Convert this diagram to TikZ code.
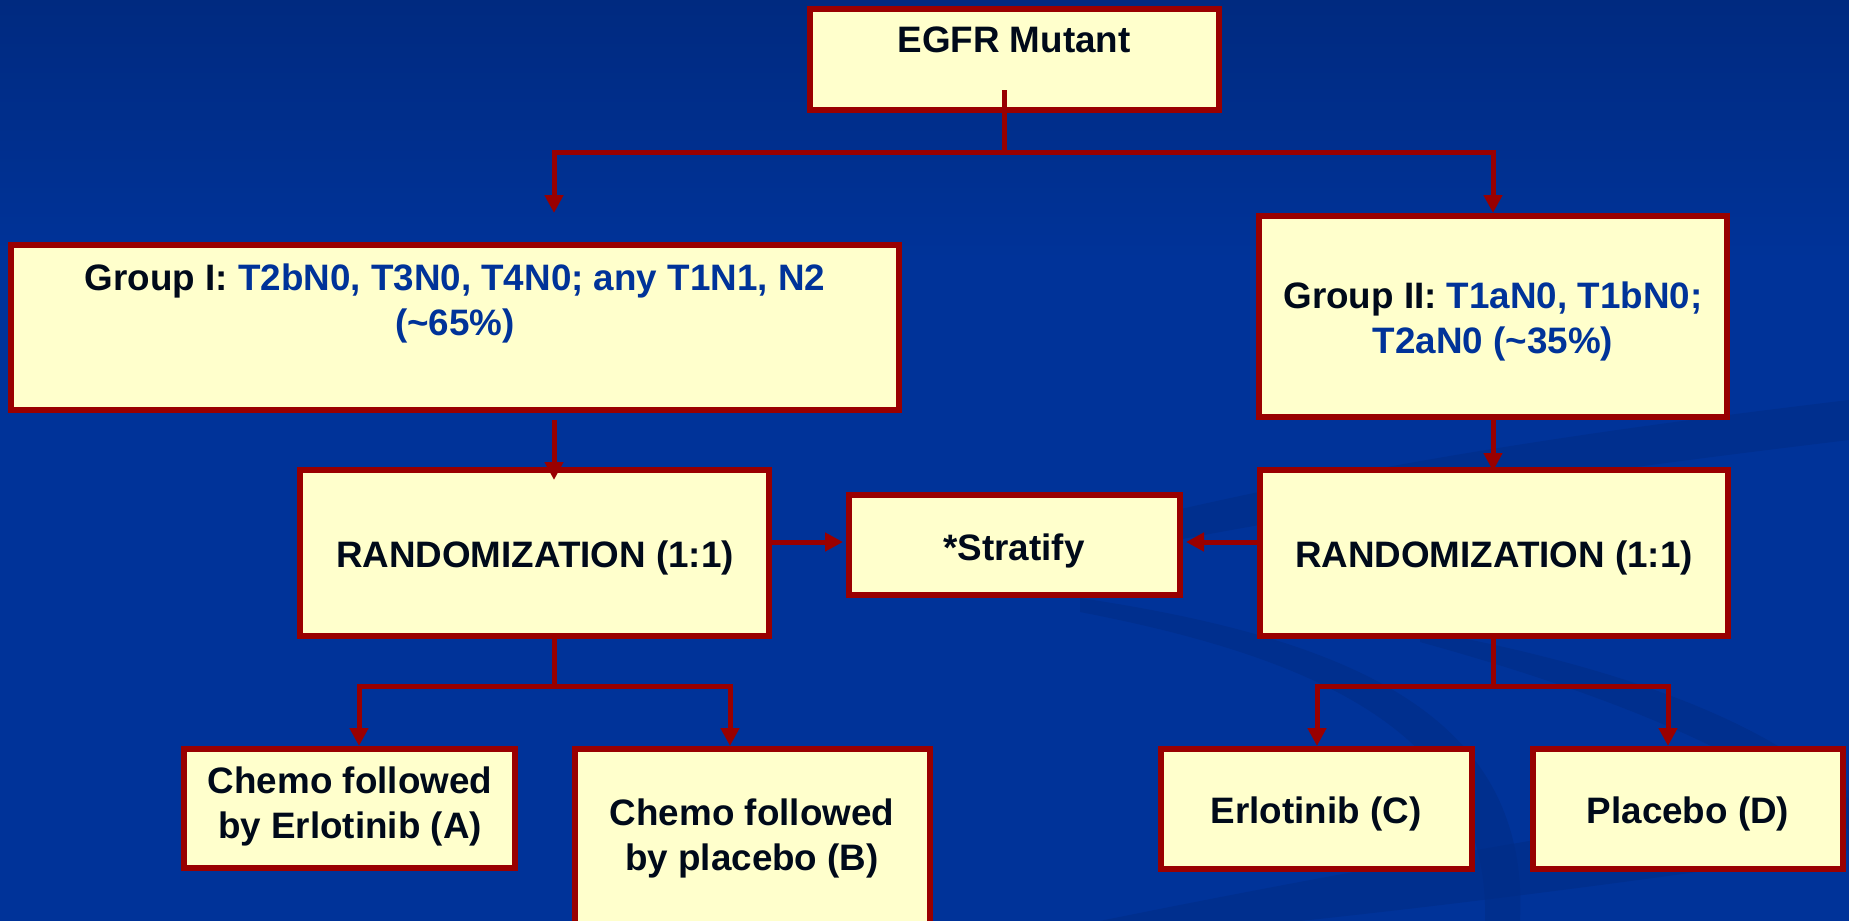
\documentclass[tikz,border=0pt]{standalone}
\usepackage{fontspec}
\setmainfont{Liberation Sans}
\usetikzlibrary{arrows.meta,fit}
\definecolor{bgtop}{HTML}{002A80}
\definecolor{bgmain}{HTML}{003399}
\definecolor{swoosh}{HTML}{002C85}
\definecolor{boxfill}{HTML}{FFFFCC}
\definecolor{boxline}{HTML}{990000}
\definecolor{stage}{HTML}{003399}
\definecolor{ink}{HTML}{000A1A}

\begin{document}
\begin{tikzpicture}[x=0.5pt,y=-0.5pt,
  box/.style={draw=boxline, fill=boxfill, line width=3pt, inner sep=0pt},
  lbl/.style={font=\bfseries\fontsize{18.4}{22.5}\selectfont, text=ink, anchor=base, inner sep=0pt, align=center},
  link/.style={draw=boxline, line width=2.5pt},
  arr/.style={link, -{Triangle[width=9pt,length=9pt]}},
  band/.style={fill=swoosh, opacity=0.55}]

\useasboundingbox (0,0) rectangle (1849,921);
\clip (0,0) rectangle (1849,921);

% background: dark band at the top fading into the slide blue
\shade[top color=bgtop, bottom color=bgmain] (0,0) rectangle (1849,260);
\fill[bgmain] (0,259) rectangle (1849,921);

% soft swooshes of the slide template
\fill[band] (980,560) .. controls (1300,470) and (1600,430) .. (1849,400)
  -- (1849,440) .. controls (1600,470) and (1300,510) .. (980,580) -- cycle;
\fill[band] (1080,598) .. controls (1360,640) and (1530,720) .. (1520,921)
  -- (1485,921) .. controls (1490,740) and (1330,660) .. (1080,612) -- cycle;
\fill[band] (1420,630) .. controls (1640,670) and (1780,730) .. (1849,800)
  -- (1849,830) .. controls (1760,760) and (1630,700) .. (1420,642) -- cycle;
\fill[band] (1100,921) .. controls (1400,860) and (1650,820) .. (1849,790)
  -- (1849,850) .. controls (1650,880) and (1450,905) .. (1300,921) -- cycle;

% boxes
\node[box, fit={(810,9) (1219,110)}] (egfr) {};
\node[box, fit={(11,245) (899,410)}] (g1) {};
\node[box, fit={(1259,216) (1727,417)}] (g2) {};
\node[box, fit={(300,470) (769,636)}] (r1) {};
\node[box, fit={(1260,470) (1728,636)}] (r2) {};
\node[box, fit={(849,495) (1180,595)}] (strat) {};
\node[box, fit={(184,749) (515,868)}] (armA) {};
\node[box, fit={(575,749) (930,945)}] (armB) {};
\node[box, fit={(1161,749) (1472,869)}] (armC) {};
\node[box, fit={(1533,749) (1843,869)}] (armD) {};

% texts (base anchor sits on the last line)
\node[lbl] (egfrT) at (1014,53) {EGFR Mutant};
\node[lbl] (g1T) at (455,335) {Group I: \textcolor{stage}{T2bN0, T3N0, T4N0; any T1N1, N2}\\\textcolor{stage}{(\textasciitilde65\%)}};
\node[lbl] (g2T) at (1493,353) {Group II: \textcolor{stage}{T1aN0, T1bN0;}\\\textcolor{stage}{T2aN0 (\textasciitilde35\%)}};
\node[lbl] (r1T) at (535,567) {RANDOMIZATION (1:1)};
\node[lbl] (r2T) at (1494,567) {RANDOMIZATION (1:1)};
\node[lbl] (stratT) at (1014,560) {*Stratify};
\node[lbl] (armAT) at (350,838) {Chemo followed\\by Erlotinib (A)};
\node[lbl] (armBT) at (752,870) {Chemo followed\\by placebo (B)};
\node[lbl] (armCT) at (1316,823) {Erlotinib (C)};
\node[lbl] (armDT) at (1688,823) {Placebo (D)};

% connector end points
\coordinate (stemtop) at (1004,90);
\coordinate (j0) at (1004,152);
\coordinate (g1in) at (554,213);
\coordinate (g2in) at (1493,213);
\coordinate (g1out) at (554,420);
\coordinate (r1in) at (554,480);
\coordinate (r2in) at (1493,471);
\coordinate (r1out) at (554,639);
\coordinate (j1) at (554,686);
\coordinate (r2out) at (1493,639);
\coordinate (j2) at (1493,686);
\coordinate (Ain) at (359,746);
\coordinate (Bin) at (730,746);
\coordinate (Cin) at (1317,746);
\coordinate (Din) at (1668,746);

% connectors
\draw[link] (stemtop) -- (j0);
\draw[arr] (j0) -| (g1in);
\draw[arr] (j0) -| (g2in);
\draw[arr] (g1out) -- (r1in);
\draw[arr] (g2.south) -- (r2in);
\draw[arr] ([yshift=5.5pt]r1.east) -- ([xshift=-1.5pt,yshift=1.5pt]strat.west);
\draw[arr] ([yshift=5.5pt]r2.west) -- ([xshift=1.5pt,yshift=1.5pt]strat.east);
\draw[link] (r1out) -- (j1);
\draw[arr] (j1) -| (Ain);
\draw[arr] (j1) -| (Bin);
\draw[link] (r2out) -- (j2);
\draw[arr] (j2) -| (Cin);
\draw[arr] (j2) -| (Din);
\end{tikzpicture}
\end{document}
